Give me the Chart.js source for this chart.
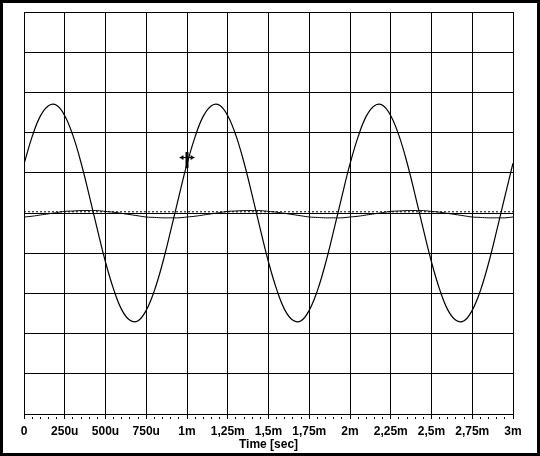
<!DOCTYPE html>
<html lang="en">
<head>
    <meta charset="UTF-8">
    <title>Time [sec]</title>
    <script src="https://cdn.jsdelivr.net/npm/chart.js"></script>
    <style>
        body {
            margin: 0;
            background: #fff;
        }
        #frame {
            width: 534px;
            height: 450px;
            border: 3px solid #000;
            background: #fff;
        }
        canvas {
            display: block;
        }
    </style>
</head>
<body>
    <div id="frame">
        <canvas id="scope" width="534" height="450"></canvas>
    </div>
    <script>
        // sample times in microseconds
        const timeUs = [
            0, 50, 100, 150, 200, 250, 300, 350, 400, 450,
            500, 550, 600, 650, 700, 750, 800, 850, 900, 950,
            1000, 1050, 1100, 1150, 1200, 1250, 1300, 1350, 1400, 1450,
            1500, 1550, 1600, 1650, 1700, 1750, 1800, 1850, 1900, 1950,
            2000, 2050, 2100, 2150, 2200, 2250, 2300, 2350, 2400, 2450,
            2500, 2550, 2600, 2650, 2700, 2750, 2800, 2850, 2900, 2950,
            3000
        ];

        // big trace (divisions)
        const ch1 = [
            1.22, 1.90, 2.41, 2.67, 2.68, 2.42, 1.93, 1.25, 0.44, -0.41,
            -1.22, -1.90, -2.41, -2.67, -2.68, -2.42, -1.93, -1.25, -0.44, 0.41,
            1.22, 1.90, 2.41, 2.67, 2.68, 2.42, 1.93, 1.25, 0.44, -0.41,
            -1.22, -1.90, -2.41, -2.67, -2.68, -2.42, -1.93, -1.25, -0.44, 0.41,
            1.22, 1.90, 2.41, 2.67, 2.68, 2.42, 1.93, 1.25, 0.44, -0.41,
            -1.22, -1.90, -2.41, -2.67, -2.68, -2.42, -1.93, -1.25, -0.44, 0.41,
            1.24
        ];

        // small trace near the centre line
        const ch2 = [
            -0.10, -0.08, -0.05, -0.02, 0.01, 0.04, 0.05, 0.06, 0.06, 0.06,
            0.04, 0.02, -0.01, -0.04, -0.07, -0.10, -0.11, -0.12, -0.12, -0.12,
            -0.10, -0.08, -0.05, -0.02, 0.01, 0.04, 0.05, 0.06, 0.06, 0.06,
            0.04, 0.02, -0.01, -0.04, -0.07, -0.10, -0.11, -0.12, -0.12, -0.12,
            -0.10, -0.08, -0.05, -0.02, 0.01, 0.04, 0.05, 0.06, 0.06, 0.06,
            0.04, 0.02, -0.01, -0.04, -0.07, -0.10, -0.11, -0.12, -0.12, -0.12,
            -0.10
        ];

        // flat noisy trace
        const ch3Time = [0, 3000];
        const ch3 = [0.03, 0.03];

        // cursor
        const cursorTime = [1000];
        const cursorValue = [1.38];

        const tickLabels = ['0', '250u', '500u', '750u', '1m', '1,25m', '1,5m',
            '1,75m', '2m', '2,25m', '2,5m', '2,75m', '3m'];

        const pts = (xs, ys) => xs.map((x, i) => ({ x: x, y: ys[i] }));

        // cursor glyph
        const cur = document.createElement('canvas');
        cur.width = 17;
        cur.height = 21;
        const c = cur.getContext('2d');
        c.fillStyle = '#000';
        c.fillRect(1, 10, 15, 1);
        c.beginPath(); c.moveTo(1, 10.5); c.lineTo(5, 8); c.lineTo(5, 13); c.fill();
        c.beginPath(); c.moveTo(16, 10.5); c.lineTo(12, 8); c.lineTo(12, 13); c.fill();
        c.fillRect(7, 7, 3, 5);
        c.fillRect(7, 5, 3, 16);

        const isMajor = v => Math.round(v) % 250 === 0;

        new Chart(document.getElementById('scope'), {
            type: 'line',
            data: {
                datasets: [
                    {
                        data: pts(ch3Time, ch3),
                        borderColor: '#000',
                        borderWidth: 1,
                        borderDash: [2, 2],
                        pointRadius: 0,
                        tension: 0
                    },
                    {
                        data: pts(timeUs, ch2),
                        borderColor: '#000',
                        borderWidth: 1,
                        pointRadius: 0,
                        tension: 0.4
                    },
                    {
                        data: pts(timeUs, ch1),
                        borderColor: '#000',
                        borderWidth: 1.2,
                        pointRadius: 0,
                        tension: 0.4
                    },
                    {
                        data: pts(cursorTime, cursorValue),
                        showLine: false,
                        pointStyle: cur,
                        pointRadius: 8
                    }
                ]
            },
            options: {
                responsive: false,
                animation: false,
                devicePixelRatio: 1,
                layout: {
                    padding: { left: 21, right: 24, top: 7, bottom: 0 }
                },
                plugins: {
                    legend: { display: false },
                    tooltip: { enabled: false }
                },
                scales: {
                    x: {
                        type: 'linear',
                        min: 0,
                        max: 3000,
                        afterFit: function (scale) { scale.height = 39; },
                        ticks: {
                            stepSize: 50,
                            autoSkip: false,
                            maxRotation: 0,
                            minRotation: 0,
                            padding: 5,
                            color: '#000',
                            font: { family: 'Liberation Sans', size: 12, weight: 'bold' },
                            callback: function (v) {
                                return isMajor(v) ? tickLabels[Math.round(v) / 250] : '';
                            }
                        },
                        grid: {
                            color: ctx => (ctx.tick && isMajor(ctx.tick.value)) ? '#000' : 'rgba(0,0,0,0)',
                            tickColor: '#000',
                            tickLength: 5,
                            tickBorderDash: ctx => (ctx.tick && isMajor(ctx.tick.value)) ? [] : [0, 2, 3, 0],
                            lineWidth: 1
                        },
                        border: { display: true, color: '#000', width: 1 },
                        title: {
                            display: true,
                            text: 'Time [sec]',
                            color: '#000',
                            padding: { top: 0, bottom: 1 },
                            font: { family: 'Liberation Sans', size: 12, weight: 'bold' }
                        }
                    },
                    y: {
                        min: -5,
                        max: 5,
                        afterFit: function (scale) { scale.width = 0; },
                        ticks: { display: false, stepSize: 1 },
                        grid: { color: '#000', drawTicks: false, tickLength: 0, lineWidth: 1 },
                        border: { display: true, color: '#000', width: 1 }
                    }
                }
            }
        });
    </script>
</body>
</html>
